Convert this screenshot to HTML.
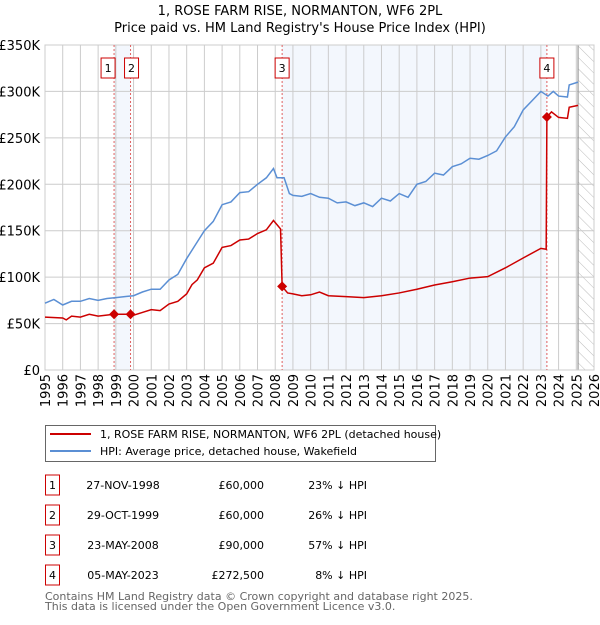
<!DOCTYPE html>
<html><head><meta charset="utf-8"><style>
body{margin:0;background:#fff;font-family:"Liberation Sans","DejaVu Sans",sans-serif;}
svg text{font-family:"DejaVu Sans","Liberation Sans",sans-serif;}
</style></head><body>
<svg id="chart" width="600" height="620" xmlns="http://www.w3.org/2000/svg">
<defs><pattern id="hatch" width="8" height="8" patternUnits="userSpaceOnUse" patternTransform="rotate(-45)"><line x1="0" y1="0" x2="0" y2="8" stroke="#bbb" stroke-width="1"/></pattern></defs>
<text x="300" y="15" text-anchor="middle" font-size="13">1, ROSE FARM RISE, NORMANTON, WF6 2PL</text>
<text x="300" y="32" text-anchor="middle" font-size="13">Price paid vs. HM Land Registry's House Price Index (HPI)</text>
<g id="plot"></g>
<g>
<rect x="45.5" y="425.5" width="390" height="36" fill="#fff" stroke="#666"/>
<line x1="50" y1="434" x2="91" y2="434" stroke="#cc0000" stroke-width="2"/>
<text x="100" y="438" font-size="11">1, ROSE FARM RISE, NORMANTON, WF6 2PL (detached house)</text>
<line x1="50" y1="451" x2="91" y2="451" stroke="#5b8fd4" stroke-width="2"/>
<text x="100" y="455" font-size="11">HPI: Average price, detached house, Wakefield</text>
</g>
<g id="table"></g>
<text x="45" y="600" font-size="11" fill="#666">Contains HM Land Registry data © Crown copyright and database right 2025.</text>
<text x="45" y="610" font-size="11" fill="#666">This data is licensed under the Open Government Licence v3.0.</text>
</svg>
<script>
const yTicks=[0,50,100,150,200,250,300,350];
const yTickLabels=["£0","£50K","£100K","£150K","£200K","£250K","£300K","£350K"];
const xYears=[1995,1996,1997,1998,1999,2000,2001,2002,2003,2004,2005,2006,2007,2008,2009,2010,2011,2012,2013,2014,2015,2016,2017,2018,2019,2020,2021,2022,2023,2024,2025,2026];
const hpiT=[1995,1995.5,1996,1996.5,1997,1997.5,1998,1998.5,1999,1999.5,2000,2000.5,2001,2001.5,2002,2002.5,2003,2003.5,2004,2004.5,2005,2005.5,2006,2006.5,2007,2007.5,2007.9,2008.1,2008.5,2008.8,2009,2009.5,2010,2010.5,2011,2011.5,2012,2012.5,2013,2013.5,2014,2014.5,2015,2015.5,2016,2016.5,2017,2017.5,2018,2018.5,2019,2019.5,2020,2020.5,2021,2021.5,2022,2022.5,2023,2023.4,2023.7,2024,2024.5,2024.6,2025.1];
const hpiV=[72,76,70,74,74,77,75,77,78,79,80,84,87,87,97,103,120,135,150,160,178,181,191,192,200,207,217,207,207,190,188,187,190,186,185,180,181,177,180,176,185,182,190,186,200,203,212,210,219,222,228,227,231,236,251,262,280,290,300,295,300,295,294,307,310];
const paidT=[1995,1996,1996.2,1996.5,1997,1997.5,1998,1998.9,1999.83,2000,2000.5,2001,2001.5,2002,2002.5,2003,2003.3,2003.6,2004,2004.5,2005,2005.5,2006,2006.5,2007,2007.5,2007.9,2008.3,2008.39,2008.7,2009,2009.5,2010,2010.5,2011,2012,2013,2014,2015,2016,2017,2018,2019,2020,2021,2022,2023,2023.3,2023.34,2023.6,2024,2024.5,2024.6,2025.1];
const paidV=[57,56,54,58,57,60,58,60,60,59,62,65,64,71,74,82,92,97,110,115,132,134,140,141,147,151,161,152,90,83,82,80,81,84,80,79,78,80,83,87,91.5,95,99,100.5,110,120.6,131,130,272.5,278,272,271,283,285];
const saleT=[1998.9,1999.83,2008.39,2023.34];
const saleV=[60,60,90,272.5];
const saleDates=["27-NOV-1998","29-OCT-1999","23-MAY-2008","05-MAY-2023"];
const salePrices=["£60,000","£60,000","£90,000","£272,500"];
const saleHpi=["23% ↓ HPI","26% ↓ HPI","57% ↓ HPI","8% ↓ HPI"];

const NS="http://www.w3.org/2000/svg";
const L=45,R=594,T=45,B=370;
const xs=t=>L+(t-1995)*(R-L)/31;
const ys=v=>B-v*(B-T)/350;
function mk(tag,attrs,parent){const e=document.createElementNS(NS,tag);for(const k in attrs)e.setAttribute(k,attrs[k]);parent.appendChild(e);return e;}
const plot=document.getElementById('plot');
let r;
r=mk('rect',{x:xs(saleT[0]),y:T,width:xs(saleT[1])-xs(saleT[0]),height:B-T,fill:'#eef3fc',opacity:0.7},plot);

r=mk('rect',{x:xs(saleT[2]),y:T,width:xs(saleT[3])-xs(saleT[2]),height:B-T,fill:'#eef3fc',opacity:0.7},plot);

r=mk('rect',{x:xs(2025.1),y:T,width:R-xs(2025.1),height:B-T,fill:'url(#hatch)'},plot);

yTicks.forEach((v,i)=>{const g=mk('line',{x1:L,x2:R,y1:ys(v),y2:ys(v),stroke:'#ccc'},plot);

const t=mk('text',{x:L-5,y:ys(v)+5,'text-anchor':'end','font-size':13},plot);t.textContent=yTickLabels[i];
});
xYears.forEach(y=>{const g=mk('line',{x1:xs(y),x2:xs(y),y1:T,y2:B,stroke:'#ccc'},plot);

const t=mk('text',{x:0,y:0,'text-anchor':'end','font-size':13,transform:`translate(${xs(y)+5},${B+4}) rotate(-90)`},plot);t.textContent=y;
});
r=mk('line',{x1:xs(2025.1),x2:xs(2025.1),y1:T,y2:B,stroke:'#999','stroke-width':1.2},plot);

r=mk('rect',{x:L,y:T,width:R-L,height:B-T,fill:'none',stroke:'#ccc'},plot);

saleT.forEach((t,i)=>{const l=mk('line',{x1:xs(t),x2:xs(t),y1:T,y2:B,stroke:'#e06060','stroke-dasharray':'2,2','stroke-width':1},plot);

const bx=i==0?xs(t)-13:(i==1?xs(t)-6:xs(t)-7);
const b=mk('rect',{x:bx,y:58,width:14,height:20,fill:'#fff',stroke:'#cc0000'},plot);

const tx=mk('text',{x:bx+7,y:72,'text-anchor':'middle','font-size':11},plot);tx.textContent=i+1;
});
const hp=mk('polyline',{points:hpiT.map((t,i)=>xs(t)+','+ys(hpiV[i])).join(' '),fill:'none',stroke:'#5b8fd4','stroke-width':1.5},plot);

const pp=mk('polyline',{points:paidT.map((t,i)=>xs(t)+','+ys(paidV[i])).join(' '),fill:'none',stroke:'#cc0000','stroke-width':1.5},plot);

saleT.forEach((t,i)=>{const d=mk('path',{d:`M${xs(t)},${ys(saleV[i])-5}l5,5l-5,5l-5,-5z`,fill:'#cc0000'},plot);
});
const tb=document.getElementById('table');
saleDates.forEach((d,i)=>{const y=485+i*30;
const b=mk('rect',{x:45.5,y:y-10,width:14,height:20,fill:'#fff',stroke:'#cc0000'},tb);

let t=mk('text',{x:52.5,y:y+4,'text-anchor':'middle','font-size':11},tb);t.textContent=i+1;

t=mk('text',{x:123,y:y+4,'text-anchor':'middle','font-size':11},tb);t.textContent=d;

t=mk('text',{x:264,y:y+4,'text-anchor':'end','font-size':11},tb);t.textContent=salePrices[i];

t=mk('text',{x:367,y:y+4,'text-anchor':'end','font-size':11},tb);t.textContent=saleHpi[i];
});
</script>
</body></html>
